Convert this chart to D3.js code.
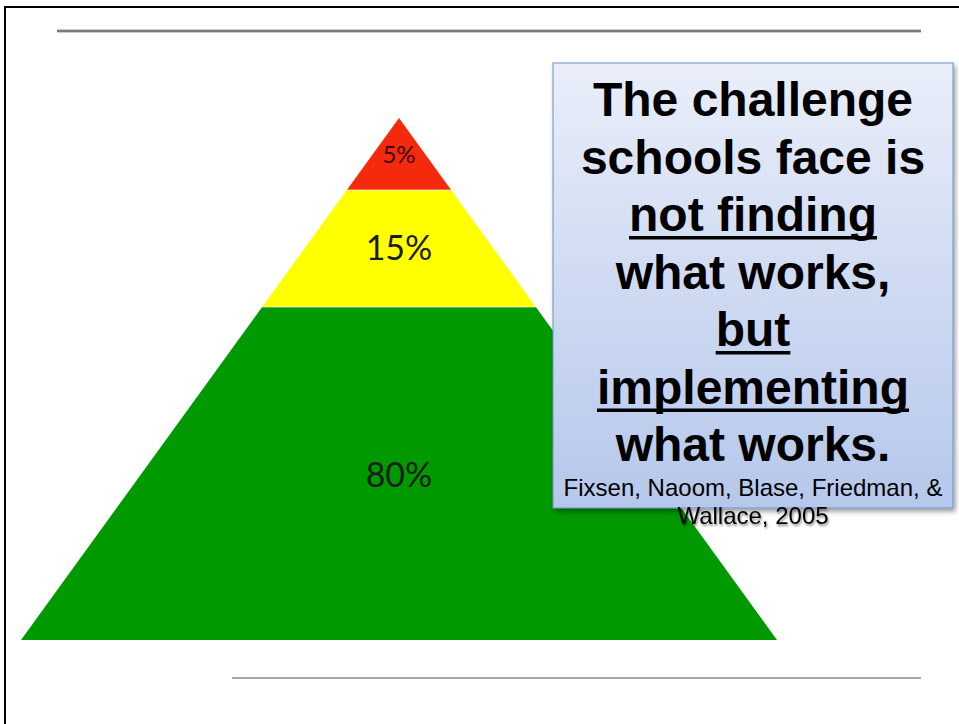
<!DOCTYPE html>
<html>
<head>
<meta charset="utf-8">
<script src="https://cdn.jsdelivr.net/npm/d3@7"></script>
<style>
  html, body { margin: 0; padding: 0; background: #fff; }
  svg { display: block; }
</style>
</head>
<body>
<svg id="slide" width="959" height="724"></svg>
<script>
// Pyramid tiers, top to bottom
const tierLabels = ["5%", "15%", "80%"];
const tierValues = [5, 15, 80];
const tierColors = ["#f52a0c", "#ffff00", "#009900"];
// Depth of each tier boundary down the pyramid (0 = apex, 1 = base)
const tierBreaks = [0, 0.138, 0.362, 1];

// Callout text lines (underline flag per line)
const calloutLines = [
  { text: "The challenge", underline: false },
  { text: "schools face is", underline: false },
  { text: "not finding", underline: true },
  { text: "what works,", underline: false },
  { text: "but", underline: true },
  { text: "implementing", underline: true },
  { text: "what works.", underline: false }
];
const citationLines = ["Fixsen, Naoom, Blase, Friedman, &", "Wallace, 2005"];

const svg = d3.select("#slide");
const defs = svg.append("defs");

// slide frame
svg.append("rect").attr("x", 5).attr("y", 7).attr("width", 970).attr("height", 740)
  .attr("fill", "none").attr("stroke", "#000").attr("stroke-width", 2);

// title rule
const ruleGrad = defs.append("linearGradient").attr("id", "ruleGrad")
  .attr("x1", 0).attr("y1", 0).attr("x2", 0).attr("y2", 1);
ruleGrad.append("stop").attr("offset", "0%").attr("stop-color", "#9a9a9a");
ruleGrad.append("stop").attr("offset", "50%").attr("stop-color", "#6a6a6a");
ruleGrad.append("stop").attr("offset", "100%").attr("stop-color", "#9a9a9a");
svg.append("rect").attr("x", 57).attr("y", 29.5).attr("width", 864).attr("height", 3)
  .attr("fill", "url(#ruleGrad)");

// footer rule
svg.append("rect").attr("x", 232).attr("y", 677).attr("width", 689).attr("height", 2)
  .attr("fill", "#a8a8a8");

// pyramid geometry via scales
const cx = 399;
const y = d3.scaleLinear().domain([0, 1]).range([118, 640]);
const halfW = d3.scaleLinear().domain([0, 1]).range([0, 378]);

const tiers = tierLabels.map((label, i) => ({
  label, value: tierValues[i], color: tierColors[i],
  t0: tierBreaks[i], t1: tierBreaks[i + 1]
}));

const pyr = svg.append("g");
pyr.selectAll("path.tier").data(tiers).join("path")
  .attr("class", "tier")
  .attr("fill", d => d.color)
  .attr("d", d => {
    const a = d.t0, b = d.t1;
    return `M${cx - halfW(a)},${y(a)}L${cx + halfW(a)},${y(a)}` +
           `L${cx + halfW(b)},${y(b)}L${cx - halfW(b)},${y(b)}Z`;
  });

// faint separators between tiers
pyr.selectAll("line.sep").data(tierBreaks.slice(1, -1)).join("line")
  .attr("class", "sep")
  .attr("x1", t => cx - halfW(t)).attr("x2", t => cx + halfW(t))
  .attr("y1", t => y(t)).attr("y2", t => y(t))
  .attr("stroke", "#fff").attr("stroke-opacity", 0.6).attr("stroke-width", 1.2);

const labelPos = [
  { base: 163, size: 24 },
  { base: 260, size: 34 },
  { base: 487, size: 34 }
];
pyr.selectAll("text.tierLabel").data(tiers).join("text")
  .attr("class", "tierLabel")
  .attr("x", cx)
  .attr("y", (d, i) => labelPos[i].base)
  .attr("text-anchor", "middle")
  .attr("font-family", "Lato, 'Open Sans', sans-serif")
  .attr("font-size", (d, i) => labelPos[i].size)
  .attr("fill", (d, i) => i === 0 ? "#3a0805" : "#1c1c1c")
  .text(d => d.label);

// callout box
const boxGrad = defs.append("linearGradient").attr("id", "boxGrad")
  .attr("x1", 0).attr("y1", 0).attr("x2", 0).attr("y2", 1);
boxGrad.append("stop").attr("offset", "0%").attr("stop-color", "#e9eef9");
boxGrad.append("stop").attr("offset", "100%").attr("stop-color", "#b5c7eb");

const shadow = defs.append("filter").attr("id", "boxShadow")
  .attr("x", "-10%").attr("y", "-10%").attr("width", "130%").attr("height", "130%");
shadow.append("feDropShadow").attr("dx", 2).attr("dy", 3).attr("stdDeviation", 2.5)
  .attr("flood-color", "#000").attr("flood-opacity", 0.4);

const textShadow = defs.append("filter").attr("id", "textShadow")
  .attr("x", "-10%").attr("y", "-30%").attr("width", "130%").attr("height", "170%");
textShadow.append("feDropShadow").attr("dx", 1).attr("dy", 2).attr("stdDeviation", 1.2)
  .attr("flood-color", "#000").attr("flood-opacity", 0.45);

const box = { x: 553, y: 63, w: 400, h: 445 };
svg.append("rect")
  .attr("x", box.x).attr("y", box.y).attr("width", box.w).attr("height", box.h)
  .attr("fill", "url(#boxGrad)")
  .attr("stroke", "#6a8fcf").attr("stroke-width", 1)
  .attr("filter", "url(#boxShadow)");

const tx = box.x + box.w / 2;
const lineY = d3.scaleLinear().domain([0, calloutLines.length - 1]).range([116, 461]);
const callout = svg.append("g")
  .attr("font-family", "'Liberation Sans', Arial, sans-serif")
  .attr("font-weight", "bold")
  .attr("font-size", 48)
  .attr("fill", "#000")
  .attr("text-anchor", "middle");

callout.selectAll("text").data(calloutLines).join("text")
  .attr("x", tx)
  .attr("y", (d, i) => lineY(i))
  .text(d => d.text);

// underlines sized to the rendered text
callout.selectAll("text").each(function (d, i) {
  if (!d.underline) return;
  const bb = this.getBBox();
  callout.append("rect")
    .attr("x", bb.x).attr("y", lineY(i) + 5)
    .attr("width", bb.width).attr("height", 3.5)
    .attr("fill", "#000");
});

svg.append("g")
  .attr("font-family", "'Liberation Sans', Arial, sans-serif")
  .attr("font-size", 24)
  .attr("fill", "#000")
  .attr("text-anchor", "middle")
  .selectAll("text").data(citationLines).join("text")
  .attr("x", tx)
  .attr("y", (d, i) => 496 + i * 28)
  .attr("filter", (d, i) => i === 1 ? "url(#textShadow)" : null)
  .text(d => d);
</script>
</body>
</html>
